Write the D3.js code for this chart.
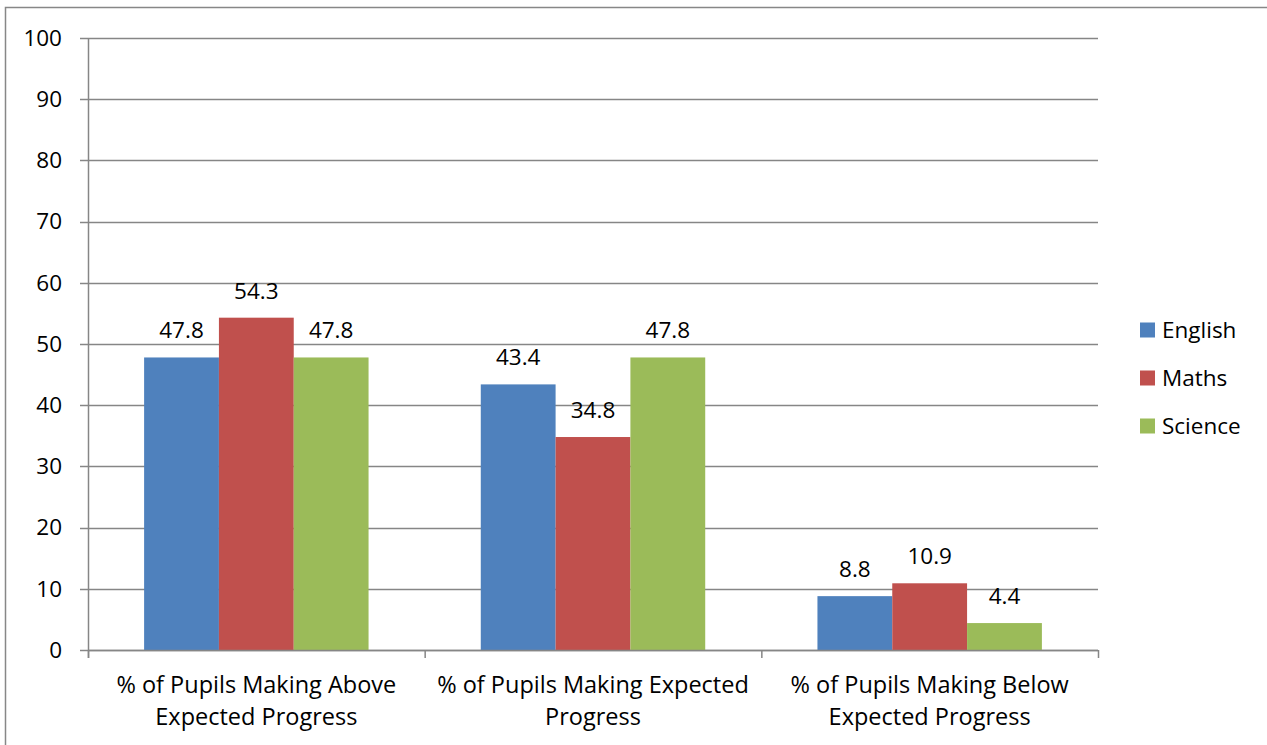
<!DOCTYPE html>
<html><head><meta charset="utf-8">
<script src="https://cdn.jsdelivr.net/npm/d3@7/dist/d3.min.js"></script>
<style>
html,body{margin:0;padding:0;background:#fff;}
svg{display:block;font-family:"Open Sans",sans-serif;}
</style></head>
<body>
<svg id="chart" width="1267" height="745"></svg>
<script>
const categories = [
  ["% of Pupils Making Above", "Expected Progress"],
  ["% of Pupils Making Expected", "Progress"],
  ["% of Pupils Making Below", "Expected Progress"]
];
const seriesNames = ["English", "Maths", "Science"];
const english = [47.8, 43.4, 8.8];
const maths = [54.3, 34.8, 10.9];
const science = [47.8, 47.8, 4.4];
const colors = ["#4F81BD", "#C0504D", "#9BBB59"];
const yTicks = [0, 10, 20, 30, 40, 50, 60, 70, 80, 90, 100];

(function () {
const series = [english, maths, science];
const svg = d3.select("#chart");
const pLeft = 88, pRight = 1098, pTop = 38, pBottom = 650;
const grid = "#868686";
const fontSize = 22.5;

svg.append("rect").attr("x", 5.5).attr("y", 7.5).attr("width", 1300).attr("height", 800)
  .attr("fill", "none").attr("stroke", "#878787").attr("stroke-width", 1.5);

const y = d3.scaleLinear().domain([0, 100]).range([pBottom, pTop]);
const x0 = d3.scaleBand().domain(d3.range(categories.length)).range([pLeft, pRight]).paddingInner(0).paddingOuter(0);
const groupW = x0.bandwidth() * 3 / 4.5;
const x1 = d3.scaleBand().domain(d3.range(series.length)).range([0, groupW]);

svg.append("g").selectAll("line").data(yTicks).join("line")
  .attr("x1", pLeft - 8).attr("x2", pRight)
  .attr("y1", d => Math.round(y(d)) + 0.5).attr("y2", d => Math.round(y(d)) + 0.5)
  .attr("stroke", grid).attr("stroke-width", 1.5);

svg.append("g").selectAll("text").data(yTicks).join("text")
  .attr("x", 62).attr("y", d => y(d)).attr("dy", "0.35em")
  .attr("text-anchor", "end").attr("font-size", fontSize).attr("fill", "#000")
  .text(d => d);

series.forEach((vals, si) => {
  const g = svg.append("g");
  g.selectAll("rect").data(vals).join("rect")
    .attr("x", (d, i) => x0(i) + (x0.bandwidth() - groupW) / 2 + x1(si))
    .attr("y", d => y(d))
    .attr("width", x1.bandwidth())
    .attr("height", d => y(0) - y(d))
    .attr("fill", colors[si]);
  g.selectAll("text").data(vals).join("text")
    .attr("x", (d, i) => x0(i) + (x0.bandwidth() - groupW) / 2 + x1(si) + x1.bandwidth() / 2)
    .attr("y", d => y(d) - 19)
    .attr("text-anchor", "middle").attr("font-size", fontSize).attr("fill", "#000")
    .text(d => d.toFixed(1));
});

svg.append("line").attr("x1", pLeft + 0.5).attr("x2", pLeft + 0.5).attr("y1", pTop).attr("y2", pBottom + 8)
  .attr("stroke", grid).attr("stroke-width", 1.5);
svg.append("line").attr("x1", pLeft).attr("x2", pRight).attr("y1", pBottom + 0.5).attr("y2", pBottom + 0.5)
  .attr("stroke", grid).attr("stroke-width", 1.5);
const catTicks = d3.range(categories.length + 1).map(i => pLeft + i * x0.bandwidth());
svg.append("g").selectAll("line").data(catTicks).join("line")
  .attr("x1", d => d + 0.5).attr("x2", d => d + 0.5).attr("y1", pBottom).attr("y2", pBottom + 8)
  .attr("stroke", grid).attr("stroke-width", 1.5);

categories.forEach((lines, i) => {
  const cx = x0(i) + x0.bandwidth() / 2;
  lines.forEach((t, li) => {
    svg.append("text").attr("x", cx).attr("y", 693 + li * 32)
      .attr("text-anchor", "middle").attr("font-size", 23.5).attr("fill", "#000").text(t);
  });
});

seriesNames.forEach((n, i) => {
  const cy = 330 + i * 48;
  svg.append("rect").attr("x", 1140).attr("y", cy - 7.5).attr("width", 15).attr("height", 15).attr("fill", colors[i]);
  svg.append("text").attr("x", 1162).attr("y", cy).attr("dy", "0.35em")
    .attr("font-size", fontSize).attr("fill", "#000").text(n);
});
})();
</script>
</body></html>
